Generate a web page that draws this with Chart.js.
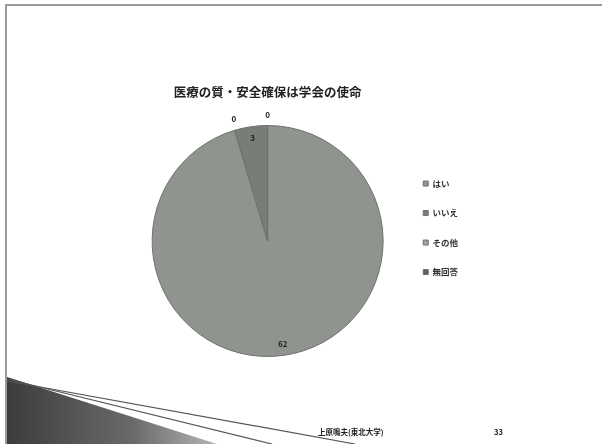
<!DOCTYPE html>
<html>
<head>
<meta charset="utf-8">
<script src="https://cdn.jsdelivr.net/npm/chart.js@4"></script>
<style>
  html, body { margin: 0; padding: 0; background: #fff; }
  #slide { position: relative; width: 602px; height: 444px; overflow: hidden; background: #fff; }
  #frame { position: absolute; left: 5px; top: 4px; width: 600px; height: 442px;
           border-top: 2px solid #9a9a9a; border-left: 2px solid #9a9a9a; }
  #deco { position: absolute; left: 0; top: 0; }
  #chartBox { position: absolute; left: 0; top: 0; width: 602px; height: 444px; }
  .foot { position: absolute; top: 426px; font: bold 7.5px "Noto Sans CJK JP", sans-serif; color: #222; }
</style>
</head>
<body>
<div id="slide">
  <div id="frame"></div>
  <svg id="deco" width="602" height="444">
    <defs>
      <linearGradient id="swoosh" x1="0" y1="0" x2="1" y2="0">
        <stop offset="0" stop-color="#3c3c3c"/>
        <stop offset="0.6" stop-color="#6a6a6a"/>
        <stop offset="1" stop-color="#b5b5b5"/>
      </linearGradient>
    </defs>
    <polygon points="7,377 217,444 7,444" fill="url(#swoosh)"/>
    <line x1="7" y1="379" x2="272" y2="444" stroke="#555" stroke-width="1.2"/>
    <line x1="7" y1="381" x2="355" y2="444" stroke="#555" stroke-width="1.2"/>
  </svg>
  <div id="chartBox"><canvas id="answerChart"></canvas></div>
  <div class="foot" style="left:318px">上原鳴夫(東北大学)</div>
  <div class="foot" style="left:494px">33</div>
</div>
<script>
const categories = ['はい', 'いいえ', 'その他', '無回答'];
const answers = [62, 3, 0, 0];
const sliceColors = ['#8f948f', '#787d78', '#a3a3a3', '#5f5f5f'];

// value labels: inside for real slices, just outside the rim for empty ones
const valueLabels = {
  id: 'valueLabels',
  afterDatasetsDraw(chart) {
    const ctx = chart.ctx;
    const meta = chart.getDatasetMeta(0);
    const values = chart.data.datasets[0].data;
    const zeros = values.filter(v => v === 0).length;
    let zeroIdx = 0;
    ctx.save();
    ctx.font = 'bold 8px "Noto Sans CJK JP", sans-serif';
    ctx.fillStyle = '#222';
    ctx.textAlign = 'center';
    ctx.textBaseline = 'middle';
    meta.data.forEach((arc, i) => {
      const p = arc.getProps(['x', 'y', 'startAngle', 'endAngle', 'outerRadius'], true);
      let a = (p.startAngle + p.endAngle) / 2;
      let r = p.outerRadius * 0.9;
      if (values[i] === 0) {
        a -= (zeros - 1 - zeroIdx) * 0.27;
        r = p.outerRadius + 11;
        zeroIdx++;
      }
      ctx.fillText(String(values[i]), p.x + Math.cos(a) * r, p.y + Math.sin(a) * r);
    });
    ctx.restore();
  }
};

const ctx = document.getElementById('answerChart').getContext('2d');
const answerChart = new Chart(ctx, {
  type: 'pie',
  data: {
    labels: categories,
    datasets: [
      {
        data: answers,
        backgroundColor: sliceColors,
        borderColor: '#6d716d',
        borderWidth: 1,
      },
    ],
  },
  options: {
    responsive: true,
    maintainAspectRatio: false,
    animation: false,
    layout: {
      padding: { top: 85, bottom: 87, left: 133, right: 134 },
    },
    plugins: {
      tooltip: { enabled: false },
      title: {
        display: true,
        fullSize: false,
        text: '医療の質・安全確保は学会の使命',
        color: '#222',
        font: { family: '"Noto Sans CJK JP", sans-serif', size: 12.5, weight: 'bold' },
        padding: { top: 0, bottom: 25 },
      },
      legend: {
        position: 'right',
        title: {
          display: true,
          text: '',
          font: { size: 8 },
          padding: { top: 0, bottom: 4 },
        },
        labels: {
          boxWidth: 5,
          boxHeight: 5,
          padding: 21,
          color: '#333',
          font: { family: '"Noto Sans CJK JP", sans-serif', size: 8.5, weight: 'bold' },
        },
      },
    },
  },
  plugins: [valueLabels],
});
</script>
</body>
</html>
